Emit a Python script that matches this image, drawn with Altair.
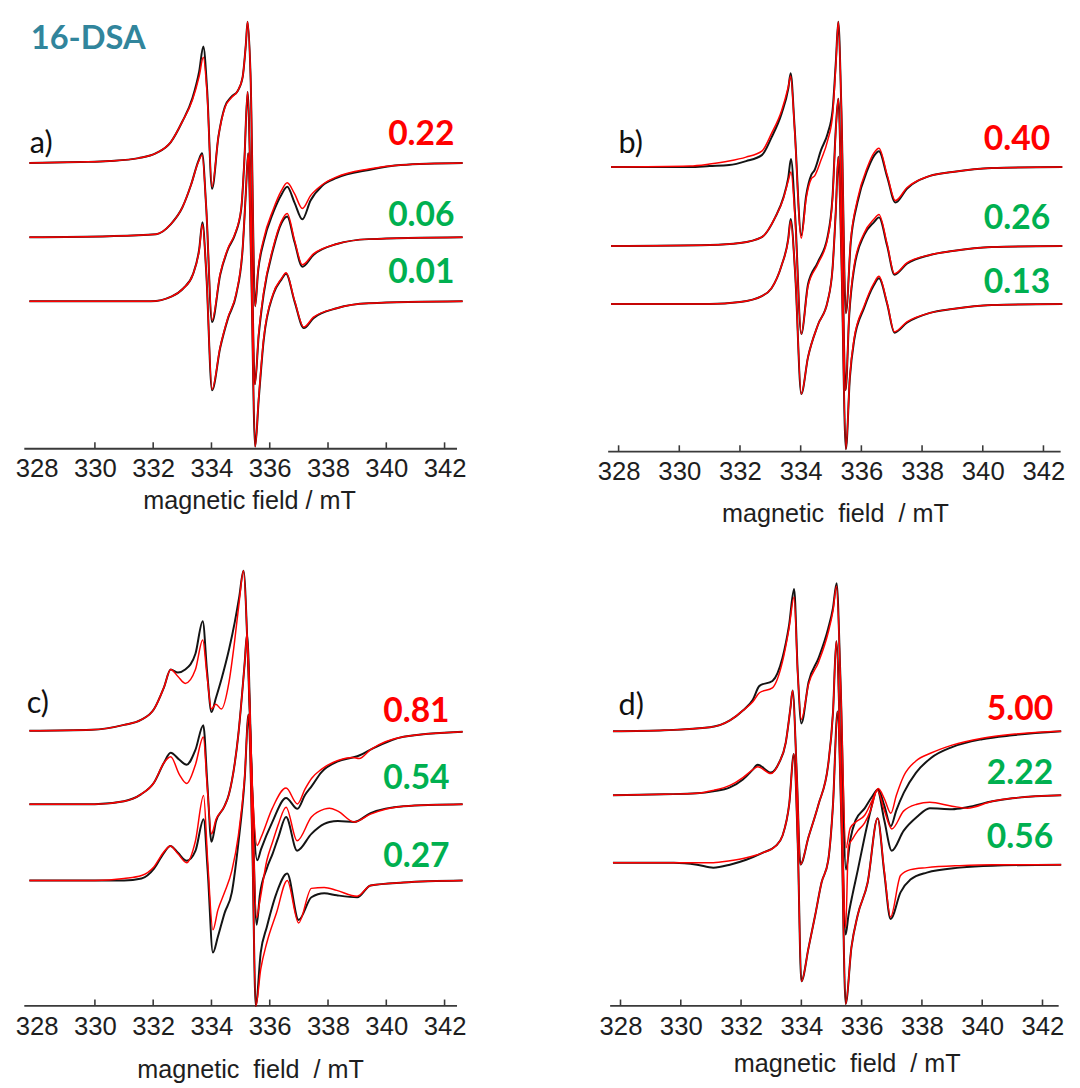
import altair as alt
import pandas as pd

# ---------------- data (field in mT, amplitude relative to each trace baseline) ----------------
tick_values = [328, 330, 332, 334, 336, 338, 340, 342]

# panel a)
a1_field = [327.75, 329.5, 330.5, 331.5, 332.1, 332.6, 333.0, 333.35, 333.58, 333.72, 333.85, 334.02, 334.24, 334.46, 334.68, 334.9, 335.07, 335.18, 335.24, 335.34, 335.5, 335.6, 335.79, 336.12, 336.4, 336.6, 336.85, 337.12, 337.4, 337.8, 338.3, 339.4, 340.5, 342.62]
a1_exp = [0, 1, 2, 5, 10, 21, 42, 66, 93, 118, 75, -26, 27, 57, 67, 73, 87, 120, 143, 90, -145, -110, -80, -50, -32, -24, -40, -57, -38, -23, -15, -7, -2, 0]
a1_sim = [0, 1, 2, 5, 10, 21, 42, 64, 88, 107, 70, -24, 27, 56, 66, 73, 87, 120, 143, 90, -145, -108, -77, -47, -28, -20, -31, -46, -33, -22, -14, -6, -2, 0]

a2_field = [327.75, 330.5, 332.1, 332.6, 333.0, 333.3, 333.55, 333.68, 333.82, 334.02, 334.3, 334.57, 334.8, 335.02, 335.13, 335.24, 335.35, 335.49, 335.62, 335.79, 336.12, 336.4, 336.6, 336.85, 337.12, 337.5, 338.3, 339.4, 342.62]
a2_exp = [0, 1, 3, 13, 30, 53, 77, 85, 30, -86, -38, -12, 2, 28, 78, 147, 40, -149, -100, -58, -12, 14, 21, -5, -30, -18, -7, -2, 0]
a2_sim = [0, 1, 3, 13, 30, 53, 76, 83, 30, -84, -37, -11, 3, 29, 79, 147, 40, -149, -98, -56, -10, 16, 24, -3, -28, -17, -7, -2, 0]

a3_field = [327.75, 330.5, 331.92, 332.64, 333.03, 333.36, 333.58, 333.69, 333.82, 334.02, 334.3, 334.57, 334.85, 335.07, 335.18, 335.26, 335.36, 335.5, 335.62, 335.79, 336.12, 336.4, 336.56, 336.85, 337.17, 337.5, 338.3, 339.4, 342.62]
a3_exp = [0, 0, 0, 5, 13, 27, 53, 80, 30, -90, -47, -17, 7, 53, 110, 150, 40, -147, -100, -40, 7, 22, 28, 0, -27, -17, -7, -2, 0]
a3_sim = [0, 0, 0, 5, 13, 27, 52, 78, 30, -89, -46, -16, 8, 54, 110, 150, 40, -147, -98, -38, 8, 23, 29, 1, -26, -16, -7, -2, 0]

# panel b)
b1_field = [327.75, 330.35, 331.0, 331.64, 332.2, 332.72, 333.04, 333.37, 333.59, 333.67, 333.8, 334.02, 334.18, 334.35, 334.46, 334.67, 334.89, 335.05, 335.16, 335.24, 335.34, 335.49, 335.65, 335.87, 336.2, 336.41, 336.58, 336.85, 337.12, 337.5, 338.26, 339.0, 340.3, 342.62]
b1_exp = [0, 0, 1, 2, 6, 12, 30, 54, 79, 95, 40, -69, -29, -8, -3, 17, 34, 57, 107, 147, 60, -148, -76, -36, -3, 11, 16, -10, -36, -22, -9, -5, -1, 0]
b1_sim = [0, 1, 3, 6, 10, 16, 34, 57, 81, 92, 38, -72, -32, -12, -9, 7, 27, 52, 104, 147, 60, -148, -74, -33, 0, 14, 19, -8, -34, -21, -9, -5, -1, 0]

b2_field = [327.75, 331.0, 332.0, 332.72, 333.16, 333.43, 333.59, 333.68, 333.82, 334.02, 334.24, 334.57, 334.89, 335.05, 335.16, 335.24, 335.34, 335.48, 335.6, 335.76, 336.09, 336.41, 336.58, 336.85, 337.09, 337.5, 338.26, 339.0, 340.3, 342.62]
b2_exp = [0, 1, 3, 9, 29, 49, 69, 88, 30, -89, -39, -16, 10, 50, 120, 149, 50, -146, -70, -23, 11, 24, 29, 0, -29, -18, -9, -5, -1, 0]
b2_sim = [0, 1, 3, 9, 29, 48, 66, 75, 25, -89, -41, -18, 8, 48, 118, 149, 50, -146, -68, -20, 13, 27, 32, 2, -28, -17, -9, -5, -1, 0]

b3_field = [327.75, 331.0, 332.0, 332.72, 333.04, 333.37, 333.59, 333.67, 333.82, 334.02, 334.24, 334.57, 334.89, 335.05, 335.16, 335.24, 335.34, 335.49, 335.62, 335.76, 336.09, 336.41, 336.58, 336.85, 337.09, 337.5, 338.26, 339.0, 340.3, 342.62]
b3_exp = [0, 0, 2, 8, 16, 39, 66, 86, 30, -91, -54, -21, 3, 36, 96, 149, 50, -147, -75, -37, -4, 19, 26, 0, -29, -19, -9, -5, -1, 0]
b3_sim = [0, 0, 2, 8, 16, 39, 65, 84, 30, -91, -54, -21, 3, 36, 96, 149, 50, -147, -73, -35, -2, 21, 28, 1, -28, -18, -9, -5, -1, 0]

# panel c)
c1_field = [327.75, 329.89, 331.0, 331.58, 332.03, 332.37, 332.6, 332.85, 333.1, 333.45, 333.7, 333.85, 334.0, 334.15, 334.34, 334.6, 334.8, 334.95, 335.1, 335.25, 335.4, 335.57, 335.7, 336.08, 336.56, 336.95, 337.21, 337.44, 337.77, 338.34, 338.85, 339.07, 339.46, 340.59, 342.62]
c1_exp = [0, 1, 6, 11, 22, 44, 62, 59, 62, 78, 111, 60, 19, 33, 52, 82, 110, 135, 162, 75, -60, -131, -120, -93, -68, -79, -65, -56, -42, -31, -27, -25, -19, -6, -1]
c1_sim = [0, 1, 6, 11, 22, 44, 62, 55, 48, 62, 92, 55, 22, 27, 22, 49, 92, 130, 162, 75, -55, -116, -108, -79, -58, -74, -59, -48, -39, -30, -27, -28, -19, -6, -1]

c2_field = [327.75, 330.0, 331.0, 331.58, 332.03, 332.37, 332.6, 332.9, 333.15, 333.45, 333.72, 333.86, 334.0, 334.16, 334.43, 334.6, 334.92, 335.14, 335.22, 335.38, 335.55, 335.66, 335.9, 336.1, 336.3, 336.56, 336.94, 337.43, 337.87, 338.05, 338.34, 338.9, 339.46, 340.59, 342.62]
c2_exp = [0, 0, 3, 10, 22, 42, 52, 45, 40, 55, 80, 20, -38, -17, -3, 10, 70, 143, 172, 30, -122, -92, -65, -50, -33, -13, -47, -30, -20, -18, -17, -18, -9, -2, 0]
c2_sim = [0, 0, 3, 10, 22, 42, 48, 30, 21, 40, 68, 15, -30, -15, -3, 10, 70, 143, 172, 30, -115, -98, -57, -38, -20, -3, -37, -13, -5, -4, -7, -18, -10, -2, 0]

c3_field = [327.75, 330.0, 331.0, 331.6, 332.03, 332.37, 332.59, 332.85, 333.15, 333.45, 333.73, 333.87, 334.05, 334.22, 334.45, 334.7, 334.92, 335.14, 335.27, 335.4, 335.52, 335.69, 335.9, 336.23, 336.6, 336.99, 337.43, 337.87, 338.3, 339.0, 339.46, 340.59, 342.62]
c3_exp = [0, 0, 0, 2, 12, 28, 35, 28, 20, 30, 62, 10, -73, -57, -33, -12, 37, 103, 168, 40, -127, -73, -47, -13, 7, -40, -17, -13, -15, -17, -5, -2, 0]
c3_sim = [0, 0, 2, 5, 14, 29, 35, 27, 18, 40, 86, 20, -50, -30, -12, 10, 45, 105, 168, 40, -127, -90, -63, -33, 0, -43, -8, -7, -10, -16, -5, -2, 0]

# panel d)
d1_field = [327.75, 329.45, 330.97, 331.63, 332.06, 332.39, 332.61, 333.04, 333.37, 333.59, 333.76, 333.88, 334.0, 334.24, 334.57, 334.89, 335.05, 335.17, 335.3, 335.48, 335.62, 335.8, 336.1, 336.35, 336.55, 336.75, 336.97, 337.15, 337.4, 337.8, 338.3, 339.0, 340.0, 341.0, 342.62]
d1_exp = [0, 1, 4, 11, 21, 32, 46, 51, 74, 107, 144, 60, 8, 50, 74, 104, 125, 150, 50, -140, -110, -90, -78, -66, -59, -75, -96, -80, -62, -42, -27, -16, -8, -4, 0]
d1_sim = [0, 1, 4, 11, 21, 30, 39, 44, 70, 104, 136, 58, 12, 48, 70, 100, 122, 147, 50, -118, -98, -92, -85, -70, -58, -68, -83, -65, -45, -30, -22, -14, -7, -3, 0]

d2_field = [327.75, 329.45, 330.54, 331.08, 331.63, 332.06, 332.39, 332.55, 332.99, 333.26, 333.48, 333.64, 333.71, 333.85, 333.97, 334.24, 334.57, 334.89, 335.05, 335.16, 335.3, 335.47, 335.56, 335.7, 335.87, 336.1, 336.3, 336.52, 336.75, 337.0, 337.39, 337.83, 338.26, 339.0, 339.5, 340.34, 341.0, 342.62]
d2_exp = [0, 1, 2, 4, 8, 16, 26, 31, 23, 33, 53, 89, 106, 20, -70, -42, -9, 31, 84, 156, 40, -141, -122, -100, -76, -42, -15, 6, -25, -56, -36, -22, -13, -14, -12, -6, -3, 0]
d2_sim = [0, 1, 2, 5, 10, 18, 26, 29, 22, 33, 53, 89, 106, 20, -70, -42, -9, 31, 84, 156, 40, -134, -52, -44, -36, -28, -15, 5, -15, -34, -16, -9, -7, -11, -13, -6, -3, 0]

d3_field = [327.75, 329.77, 330.54, 331.08, 331.63, 332.17, 332.71, 333.15, 333.37, 333.6, 333.75, 333.88, 334.0, 334.24, 334.46, 334.67, 334.89, 335.05, 335.2, 335.33, 335.47, 335.66, 335.87, 336.2, 336.53, 336.75, 336.96, 337.29, 337.62, 338.16, 339.25, 340.34, 342.62]
d3_exp = [0, 0, -2, -5, -2, 3, 10, 17, 27, 60, 110, 20, -120, -86, -53, -20, 2, 59, 153, 40, -143, -86, -53, -20, 45, -10, -57, -30, -17, -10, -5, -3, -2]
d3_sim = [0, 0, 0, 0, 2, 5, 10, 17, 27, 60, 110, 20, -120, -86, -53, -20, 2, 59, 153, 40, -143, -86, -53, -20, 45, -8, -55, -13, -7, -5, -3, -2, -2]

# vertical stacking offsets of the three spectra in each panel
offsets_a = [288.7, 213.7, 148.7]
offsets_b = [287.7, 207.7, 149.0]
offsets_c = [278.0, 203.7, 126.5]
offsets_d = [277.5, 212.7, 144.5]

# texts
labels_a = ["0.22", "0.06", "0.01"]
labels_b = ["0.40", "0.26", "0.13"]
labels_c = ["0.81", "0.54", "0.27"]
labels_d = ["5.00", "2.22", "0.56"]
label_colors = ["#FF0000", "#00B050", "#00B050"]

RED = "#FF0000"
BLACK = "#141414"
AXIS_FONT = "Liberation Sans"
TEXT_FONT = "Lato"


def build_df(traces, offsets):
    rows = []
    for i, ((fld, exp, sim), off) in enumerate(zip(traces, offsets)):
        for f, v in zip(fld, exp):
            rows.append({"field": f, "y": off + v, "trace": f"t{i}", "kind": "exp"})
        for f, v in zip(fld, sim):
            rows.append({"field": f, "y": off + v, "trace": f"t{i}", "kind": "sim"})
    return pd.DataFrame(rows)


def text_layer(txt, x, y, color, size, weight, align):
    d = pd.DataFrame({"t": [txt]})
    return [
        alt.Chart(d).mark_text(font=TEXT_FONT, fontSize=size, fontWeight=weight, align=align,
                               baseline="alphabetic", color=color)
        .encode(x=alt.value(x), y=alt.value(y), text="t:N")
    ]


def make_panel(traces, offsets, domain, width, height, first_tick, title, title_x, title_y,
               letter, letter_xy, labels, label_right, label_ys, extra=None):
    df = build_df(traces, offsets)
    xs = alt.Scale(domain=domain, nice=False, zero=False)
    ys = alt.Scale(domain=[0, height], nice=False, zero=False)
    axis = alt.Axis(values=tick_values, format="d", title=title, ticks=False, tickSize=0,
                    labelPadding=8, labelFont=AXIS_FONT, labelFontSize=26,
                    labelColor="#1e1e1e", labelFlush=False, labelOverlap=False,
                    domainColor="#3a3a3a", domainWidth=1.8, grid=False,
                    titleFont=AXIS_FONT, titleFontSize=25.5, titleFontWeight="normal",
                    titleColor="#1e1e1e", titleX=title_x, titleY=title_y,
                    titleBaseline="alphabetic", titleAnchor="middle")
    base = alt.Chart(df)
    exp_line = base.transform_filter(alt.datum.kind == "exp").mark_line(
        interpolate="monotone", color=BLACK, strokeWidth=2.0
    ).encode(x=alt.X("field:Q", scale=xs, axis=axis), y=alt.Y("y:Q", scale=ys, axis=None),
             detail="trace:N")
    sim_line = base.transform_filter(alt.datum.kind == "sim").mark_line(
        interpolate="monotone", color=RED, strokeWidth=1.5
    ).encode(x=alt.X("field:Q", scale=xs), y=alt.Y("y:Q", scale=ys), detail="trace:N")

    tdf = pd.DataFrame({"field": [v for v in tick_values if v >= first_tick]})
    ticks = alt.Chart(tdf).mark_rule(color="#3a3a3a", strokeWidth=1.6).encode(
        x=alt.X("field:Q", scale=xs), y=alt.value(height), y2=alt.value(height - 6))

    layers = [exp_line, sim_line, ticks]
    layers += text_layer(letter, letter_xy[0], letter_xy[1], "#111111", 31, "normal", "left")
    for txt, col, yy in zip(labels, label_colors, label_ys):
        layers += text_layer(txt, label_right, yy, col, 34, "bold", "right")
    if extra:
        layers += extra
    return alt.layer(*layers).properties(width=width, height=height)


pa = make_panel([(a1_field, a1_exp, a1_sim), (a2_field, a2_exp, a2_sim), (a3_field, a3_exp, a3_sim)],
                offsets_a, [327.56, 342.41], 438, 437, 330, "magnetic field / mT", 228, 61,
                "a)", (6, 138), labels_a, 436, [130, 212, 270],
                extra=text_layer("16-DSA", 7, 33, "#31859C", 33, "bold", "left"))
pb = make_panel([(b1_field, b1_exp, b1_sim), (b2_field, b2_exp, b2_sim), (b3_field, b3_exp, b3_sim)],
                offsets_b, [327.64, 342.55], 458, 440, 328, "magnetic\u00a0 field\u00a0 / mT", 230, 71,
                "b)", (11, 138), labels_b, 448, [135, 215, 280])
pc = make_panel([(c1_field, c1_exp, c1_sim), (c2_field, c2_exp, c2_sim), (c3_field, c3_exp, c3_sim)],
                offsets_c, [327.56, 342.41], 438, 447, 330, "magnetic\u00a0 field\u00a0 / mT", 229, 73,
                "c)", (3, 151), labels_c, 431, [160, 228, 307])
pd_ = make_panel([(d1_field, d1_exp, d1_sim), (d2_field, d2_exp, d2_sim), (d3_field, d3_exp, d3_sim)],
                 offsets_d, [327.64, 342.52], 454, 447, 328, "magnetic\u00a0 field\u00a0 / mT", 240, 67,
                 "d)", (9, 153), labels_d, 449, [158, 223, 288])

row1 = alt.hconcat(pa, pb, spacing=131)
row2 = alt.hconcat(pc, pd_, spacing=133)
chart = alt.vconcat(row1, row2, spacing=37).properties(
    padding={"left": 7, "top": 2, "right": 5, "bottom": 5},
    background="white",
).configure_view(stroke=None)

chart.save("out.html", embed_options={"renderer": "svg", "actions": False})
